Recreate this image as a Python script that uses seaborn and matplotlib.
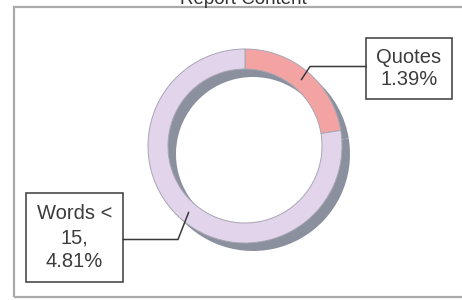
import numpy as np
import matplotlib
matplotlib.use("Agg")
import matplotlib.pyplot as plt
import seaborn as sns
from matplotlib.patches import Rectangle

# data
categories = ["Quotes", "Words < 15"]
shares = [1.39, 4.81]
box_labels = ["Quotes\n1.39%", "Words <\n15,\n4.81%"]
title = "Report Content"

sns.set_theme(style="white")
plt.rcParams["font.family"] = ["Liberation Sans", "DejaVu Sans"]

colors = ["#f4a3a3", "#e1d4eb"]
shadow = "#8b909e"

fig = plt.figure(figsize=(4.62, 3.0), dpi=100)
fig.patch.set_facecolor("white")
ax = fig.add_axes([0, 0, 1, 1])

# pixel-like coordinates, y up
cx, cy, r, w = 245, 300 - 146, 97, 20

# shadow ring, offset down-right
ax.pie(shares, colors=[shadow, shadow], startangle=90, counterclock=False,
       center=(cx + 8, cy - 8), radius=r,
       wedgeprops=dict(width=w, linewidth=0))
wedges, _ = ax.pie(shares, colors=colors, startangle=90, counterclock=False,
                   center=(cx, cy), radius=r,
                   wedgeprops=dict(width=w, edgecolor="#a9a6b4", linewidth=0.7))

ax.set_xlim(0, 462)
ax.set_ylim(0, 300)
ax.set_aspect("equal")
ax.axis("off")

# outer frame
ax.add_patch(Rectangle((14, 3), 470, 290, fill=False, edgecolor="#aaaaaa", lw=1.6))

# label boxes: (x0, y0 top, width, height) in pixels, elbow x, linespacing
boxes = [
    (366, 38, 86, 61, 310, 1.15),
    (26, 193, 97, 89, 178, 1.35),
]
for wdg, lab, (bx, by, bw, bh, ex, ls) in zip(wedges, box_labels, boxes):
    ax.add_patch(Rectangle((bx, 300 - by - bh), bw, bh, fill=False,
                           edgecolor="#3a3a3a", lw=1.1, zorder=5))
    ax.text(bx + bw / 2, 300 - by - bh / 2, lab, ha="center", va="center",
            fontsize=14.5, color="#3c3c3c", linespacing=ls, zorder=6)
    mid = np.deg2rad((wdg.theta1 + wdg.theta2) / 2)
    px = cx + (r - w / 2) * np.cos(mid)
    py = cy + (r - w / 2) * np.sin(mid)
    side = bx if bx > cx else bx + bw
    ly = 300 - by - bh / 2 + (2 if bx > cx else -2)
    ax.plot([px, ex, side], [py, ly, ly], color="#3a3a3a", lw=1.1, zorder=4)

fig.text(0.527, 0.987, title, ha="center", va="baseline", fontsize=13.5,
         color="#333333")

fig.savefig("out.png", dpi=100)
